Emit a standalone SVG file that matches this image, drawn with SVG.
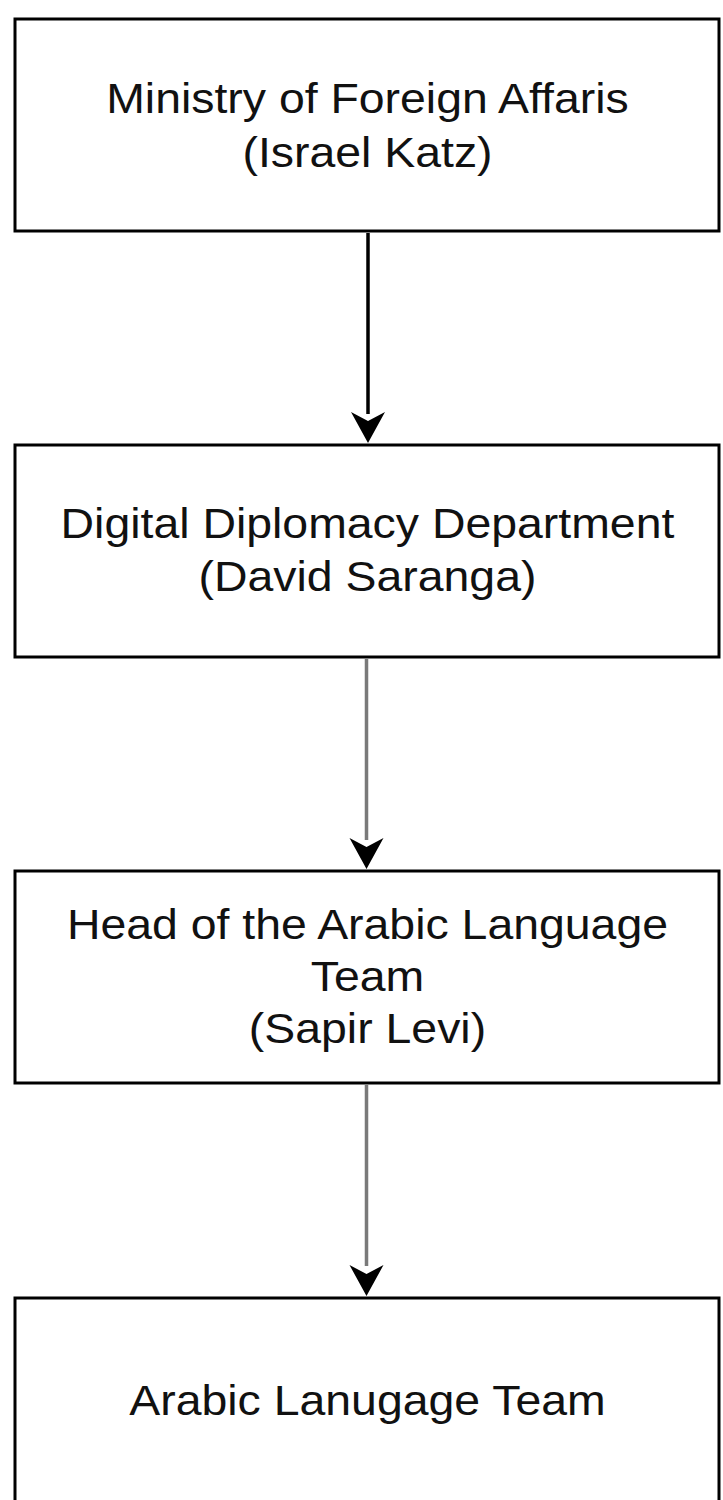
<svg xmlns="http://www.w3.org/2000/svg" width="723" height="1500" viewBox="0 0 723 1500">
<style>
.box{fill:#fff;stroke:#000;stroke-width:3}
.lbl{font-family:"Liberation Sans",Arial,sans-serif;font-size:42px;fill:#111;text-anchor:middle}
.edge{fill:none;stroke-width:3.5}
.head{fill:#000}
</style>
<rect width="723" height="1500" fill="#fff"/>
<g id="connectors">
<path d="M368,233 V414" class="edge" stroke="#000"/>
<path class="head" d="M351,412 L368,421 L385,412 L368,443 Z"/>
<path d="M366.5,659 V840" class="edge" stroke="#7a7a7a"/>
<path class="head" d="M349.5,838 L366.5,847 L383.5,838 L366.5,869 Z"/>
<path d="M366.5,1085 V1266" class="edge" stroke="#7a7a7a"/>
<path class="head" d="M349.5,1265 L366.5,1274 L383.5,1265 L366.5,1296 Z"/>
</g>
<g id="n1">
<rect class="box" x="15" y="19" width="704" height="212"/>
<g transform="matrix(1.105,0,0,1,-38.6,0)">
<text class="lbl" x="367.5" y="113">Ministry of Foreign Affaris</text>
<text class="lbl" x="367.5" y="167">(Israel Katz)</text>
</g>
</g>
<g id="n2">
<rect class="box" x="15" y="445" width="704" height="212"/>
<g transform="matrix(1.105,0,0,1,-38.6,0)">
<text class="lbl" x="367.5" y="538">Digital Diplomacy Department</text>
<text class="lbl" x="367.5" y="591">(David Saranga)</text>
</g>
</g>
<g id="n3">
<rect class="box" x="15" y="871" width="704" height="212"/>
<g transform="matrix(1.105,0,0,1,-38.6,0)">
<text class="lbl" x="367.5" y="939">Head of the Arabic Language</text>
<text class="lbl" x="367.5" y="991">Team</text>
<text class="lbl" x="367.5" y="1043">(Sapir Levi)</text>
</g>
</g>
<g id="n4">
<rect class="box" x="15" y="1298" width="704" height="212"/>
<g transform="matrix(1.105,0,0,1,-38.6,0)">
<text class="lbl" x="367.5" y="1415">Arabic Lanugage Team</text>
</g>
</g>
</svg>
